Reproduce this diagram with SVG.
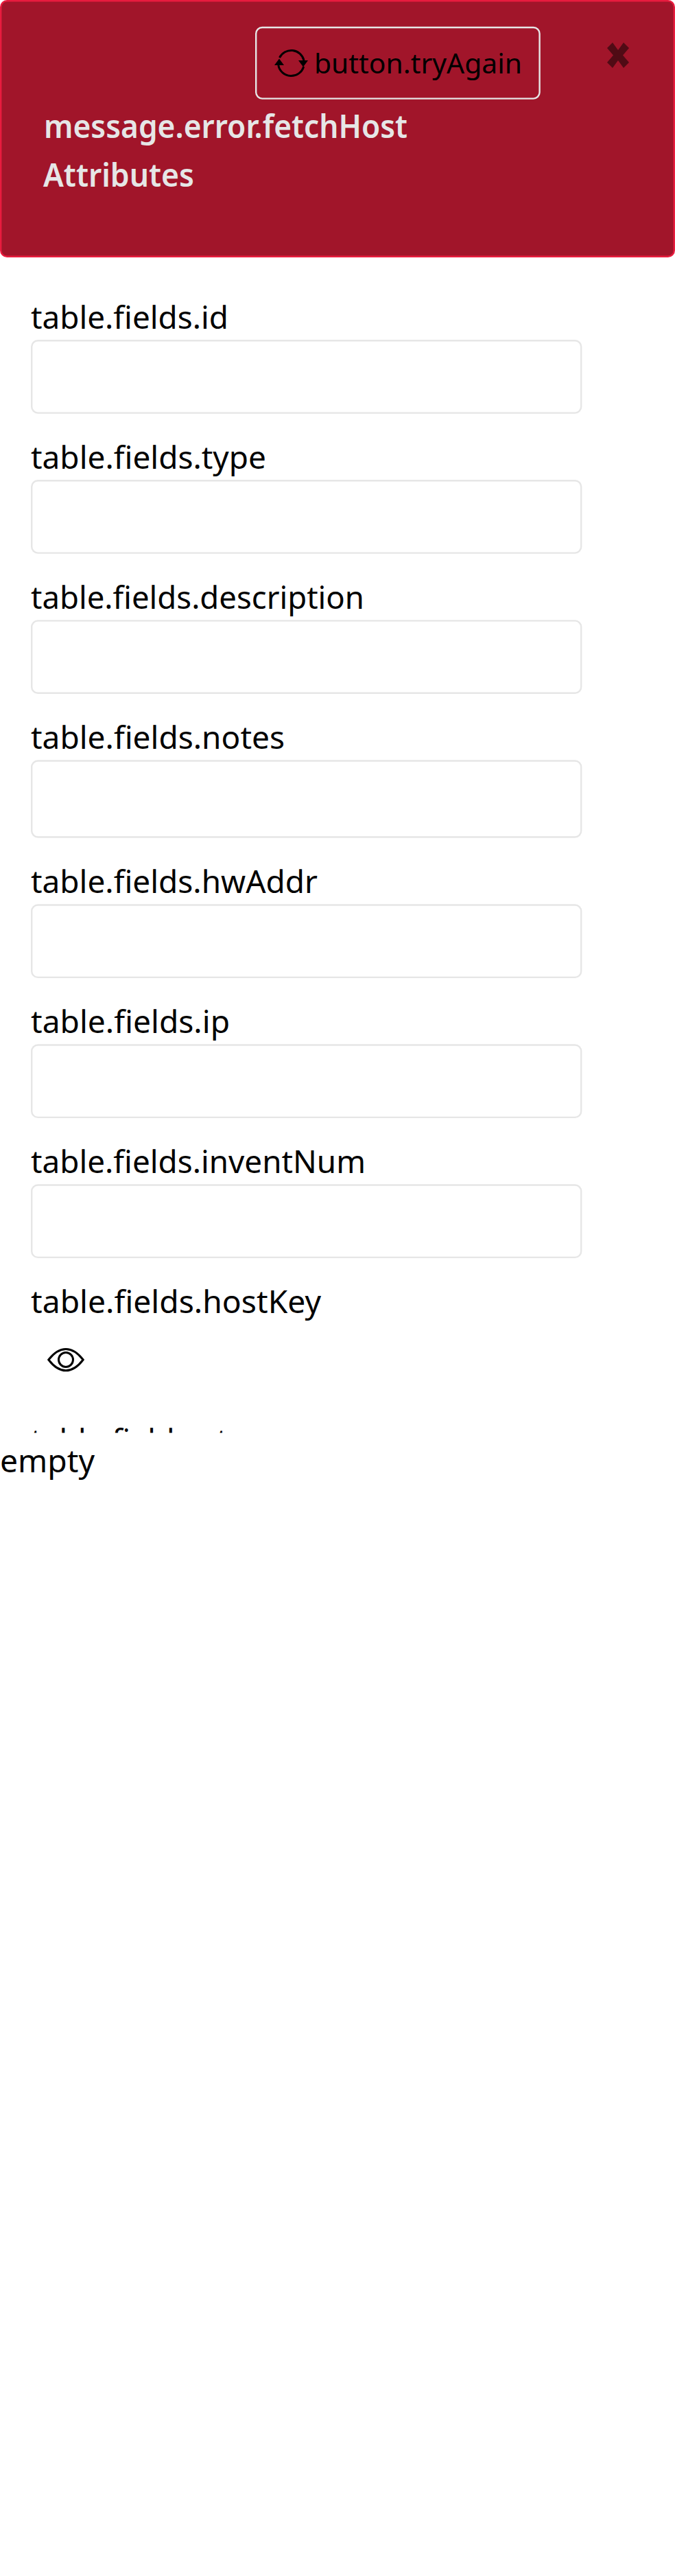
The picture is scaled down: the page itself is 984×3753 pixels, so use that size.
<svg xmlns="http://www.w3.org/2000/svg" width="984" height="3753" viewBox="0 0 984 3753">
<defs>
<style>
text{font-family:"Noto Sans","Open Sans",sans-serif;fill:#000}
.lbl{font-size:46px}
.msg{font-size:46px;font-weight:600;fill:#e6e6e6}
.btn{font-size:40px}
.inp{fill:#fff;stroke:#e6e6e6;stroke-width:2.4}
.ico{fill:none;stroke:#000;stroke-width:3}
</style>
<clipPath id="cut"><rect x="0" y="2040" width="984" height="47.5"/></clipPath>
</defs>
<rect width="984" height="3753" fill="#fff"/>
<g id="banner">
<rect x="1.2" y="1.2" width="981.6" height="372.6" rx="9" fill="#a1152a" stroke="#e81c3e" stroke-width="2.4"/>
<text class="msg" x="64" y="200.7" textLength="530" lengthAdjust="spacingAndGlyphs">message.error.fetchHost</text>
<text class="msg" x="63" y="272" textLength="220" lengthAdjust="spacingAndGlyphs">Attributes</text>
</g>
<g id="retry-button">
<rect x="373.2" y="40" width="413.4" height="103.6" rx="9" fill="none" stroke="#e6e6e6" stroke-width="2.4"/>
<path class="ico" d="M407.5 84A19 19 0 0 1 443 88M442.7 97A19 19 0 0 1 405.8 95"/>
<path d="M400 95H414L407 85.5ZM435 88H449L442 97.5Z" fill="#000"/>
<text class="btn" x="458" y="107" textLength="303" lengthAdjust="spacingAndGlyphs">button.tryAgain</text>
</g>
<g id="close">
<path d="M893 62L901 73L909 62L917 70L908 80.5L917 91L909 99L901 88L893 99L885 91L894 80.5L885 70Z" fill="#500b15"/>
</g>
<g id="field-id"><text class="lbl" x="45" y="479" textLength="288" lengthAdjust="spacingAndGlyphs">table.fields.id</text><rect class="inp" x="46.2" y="496.2" width="801" height="105.4" rx="9"/></g>
<g id="field-type"><text class="lbl" x="45" y="683" textLength="343" lengthAdjust="spacingAndGlyphs">table.fields.type</text><rect class="inp" x="46.2" y="700.2" width="801" height="105.4" rx="9"/></g>
<g id="field-description"><text class="lbl" x="45" y="887" textLength="486" lengthAdjust="spacingAndGlyphs">table.fields.description</text><rect class="inp" x="46.2" y="904.4" width="801" height="105.4" rx="9"/></g>
<g id="field-notes"><text class="lbl" x="45" y="1090.7" textLength="370" lengthAdjust="spacingAndGlyphs">table.fields.notes</text><rect class="inp" x="46.2" y="1108.5" width="801" height="111" rx="9"/></g>
<g id="field-hwAddr"><text class="lbl" x="45" y="1300.7" textLength="418" lengthAdjust="spacingAndGlyphs">table.fields.hwAddr</text><rect class="inp" x="46.2" y="1318.5" width="801" height="105.4" rx="9"/></g>
<g id="field-ip"><text class="lbl" x="45" y="1504.7" textLength="290" lengthAdjust="spacingAndGlyphs">table.fields.ip</text><rect class="inp" x="46.2" y="1522.5" width="801" height="105.4" rx="9"/></g>
<g id="field-inventNum"><text class="lbl" x="45" y="1708.7" textLength="488" lengthAdjust="spacingAndGlyphs">table.fields.inventNum</text><rect class="inp" x="46.2" y="1726.5" width="801" height="105.4" rx="9"/></g>
<g id="field-hostKey"><text class="lbl" x="45" y="1913" textLength="423" lengthAdjust="spacingAndGlyphs">table.fields.hostKey</text>
<path class="ico" d="M70.8 1981C79 1970.5 87 1965.5 96 1965.5C105 1965.5 113 1970.5 121.2 1981C113 1991.8 105 1996.8 96 1996.8C87 1996.8 79 1991.8 70.8 1981Z"/>
<circle class="ico" cx="96" cy="1981" r="10.5"/></g>
<g id="field-clipped" clip-path="url(#cut)"><text class="lbl" x="45" y="2115" textLength="287" lengthAdjust="spacingAndGlyphs">table.fields.nt</text></g>
<g id="empty"><text class="lbl" x="0" y="2145" textLength="138" lengthAdjust="spacingAndGlyphs">empty</text></g>
<g id="connectors"/>
</svg>
